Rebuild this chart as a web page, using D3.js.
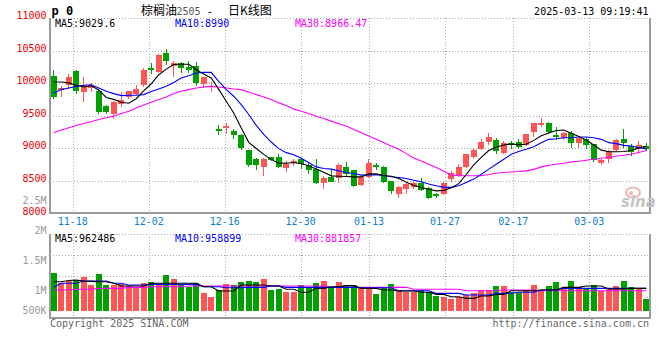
<!DOCTYPE html>
<html><head><meta charset="utf-8">
<script src="https://cdn.jsdelivr.net/npm/d3@7"></script>
<style>
html,body{margin:0;padding:0;background:#fff;}
svg{display:block;}
text{font-family:"DejaVu Sans Mono",monospace;font-size:10px;}
</style></head><body>
<svg id="c" width="660" height="360"></svg>
<script>
// ---------- data ----------
const dates = ["11-13","11-14","11-15","11-18","11-19","11-20","11-21","11-22","11-25","11-26","11-27","11-28","11-29",
"12-02","12-03","12-04","12-05","12-06","12-09","12-10","12-11","12-12","12-13","12-16","12-17","12-18","12-19","12-20","12-23","12-24","12-25","12-26","12-27","12-30","12-31",
"01-02","01-03","01-06","01-07","01-08","01-09","01-10","01-13","01-14","01-15","01-16","01-17","01-20","01-21","01-22","01-23","01-24","01-27",
"02-05","02-06","02-07","02-10","02-11","02-12","02-13","02-14","02-17","02-18","02-19","02-20","02-21","02-24","02-25","02-26","02-27","02-28",
"03-03","03-04","03-05","03-06","03-07","03-10","03-11","03-12","03-13"];
const openP = [10113,9899,9966,10190,9859,9925,9884,9655,9518,9680,9782,9838,9976,10230,10174,10459,10265,10307,10240,10256,9986,9945,9294,9314,9258,9207,8968,8830,8713,8861,8866,8693,8769,8830,8739,8678,8464,8550,8535,8718,8662,8439,8561,8739,8713,8490,8296,8372,8398,8464,8388,8296,8296,8525,8576,8718,8871,8993,9095,9121,8932,9085,9095,9044,9253,9350,9380,9197,9161,9238,9085,9136,9060,8769,8841,8973,9136,9034,8983,9034];
const highP = [10205,9960,10134,10195,10098,10006,9900,9670,9731,9859,9884,9976,10235,10307,10449,10520,10340,10327,10337,10327,10098,10011,9350,9390,9289,9215,8975,8846,8856,8871,8907,8805,8841,8856,8769,8830,8576,8662,8769,8790,8662,8550,8830,8780,8729,8490,8423,8459,8485,8535,8408,8311,8474,8652,8754,8907,9009,9146,9228,9161,9110,9110,9136,9212,9390,9457,9401,9329,9248,9263,9161,9172,9070,8830,8968,9136,9289,9070,9110,9075];
const lowP = [9757,9787,9915,9838,9706,9859,9533,9523,9451,9630,9757,9823,9940,10139,10149,10271,10100,10154,10154,9950,9920,9859,9197,9212,9136,8968,8718,8668,8576,8805,8703,8637,8729,8688,8601,8449,8372,8480,8464,8576,8408,8413,8535,8668,8464,8296,8235,8296,8372,8347,8220,8235,8281,8474,8550,8703,8841,8968,9044,8917,8907,8983,8983,9034,9177,9329,9212,9121,9121,9009,9009,8993,8790,8739,8769,8958,9009,8881,8917,8958];
const closeP = [9782,9925,10098,9874,9976,9966,9553,9553,9716,9747,9884,9915,10205,10205,10434,10332,10305,10225,10195,10001,10088,9960,9273,9334,9197,8998,8739,8739,8840,8820,8713,8754,8800,8754,8668,8464,8540,8484,8739,8601,8423,8550,8769,8713,8474,8337,8408,8449,8464,8362,8235,8260,8464,8617,8713,8907,8968,9095,9172,8958,9085,9054,9024,9212,9380,9380,9248,9172,9238,9075,9151,9044,8820,8815,8958,9121,9075,8942,9044,8983];
const ma5 = [10016,10016,10003,9968,9940,9960,9895,9780,9750,9707,9690,9760,9880,9990,10128,10215,10285,10290,10290,10205,10140,10080,9903,9720,9540,9310,9090,8995,8905,8828,8768,8770,8780,8760,8730,8680,8630,8575,8570,8565,8560,8560,8605,8605,8580,8570,8535,8476,8430,8396,8370,8345,8352,8392,8455,8596,8745,8858,8965,9015,9050,9065,9055,9060,9120,9190,9235,9272,9280,9230,9180,9125,9050,8970,8945,8945,8950,8965,9005,9030];
const ma10 = [9849,9900,9925,9950,9966,9975,9925,9874,9838,9808,9813,9813,9823,9870,9910,9950,10010,10078,10113,10154,10164,10164,10027,9900,9798,9670,9518,9350,9212,9095,8993,8932,8900,8846,8780,8713,8688,8678,8652,8627,8612,8586,8591,8591,8576,8561,8550,8535,8508,8484,8449,8423,8398,8398,8423,8474,8525,8601,8678,8754,8830,8907,8948,8983,9022,9085,9136,9146,9161,9161,9172,9172,9161,9136,9085,9070,9044,9034,9009,8990];
const ma30 = [9238,9279,9314,9350,9380,9406,9441,9467,9492,9533,9569,9619,9665,9706,9747,9787,9840,9874,9900,9925,9940,9950,9940,9925,9910,9900,9864,9823,9787,9747,9696,9655,9600,9569,9533,9492,9457,9416,9375,9340,9289,9238,9187,9136,9085,9034,8983,8917,8850,8805,8754,8703,8645,8590,8576,8576,8576,8578,8595,8615,8627,8635,8642,8652,8675,8713,8739,8754,8769,8790,8800,8815,8830,8846,8856,8881,8892,8907,8935,8966];
const volume = [1300000,1133000,1162000,1178000,1228000,1095000,1278000,1095000,1095000,1112000,1078000,1056000,1128000,1151000,1112000,1262000,1200000,1095000,1067000,1123000,956000,900000,1011000,1112000,1095000,1145000,1167000,1151000,1200000,1011000,1028000,983000,983000,1095000,1039000,1133000,1167000,1039000,1151000,1095000,1095000,1056000,1056000,944000,1056000,1112000,1011000,983000,983000,1011000,983000,911000,889000,861000,900000,928000,956000,1011000,1011000,1078000,1078000,983000,983000,1011000,1095000,1011000,1078000,1151000,1056000,1167000,1056000,1039000,1095000,1000000,1039000,1078000,1167000,1056000,1039000,861000];
const vma5 = [1150000,1150000,1170000,1178000,1160000,1155000,1150000,1150000,1123000,1078000,1078000,1078000,1078000,1123000,1123000,1123000,1123000,1123000,1123000,1123000,1067000,1067000,995000,995000,995000,1095000,1095000,1095000,1095000,1078000,1078000,1023000,1023000,973000,973000,1039000,1039000,1067000,1067000,1084000,1084000,1039000,1039000,1039000,1011000,1011000,995000,995000,995000,973000,973000,939000,939000,900000,900000,872000,872000,911000,911000,939000,939000,1000000,1000000,1000000,1000000,1011000,1011000,1011000,1056000,1056000,1056000,1078000,1078000,1078000,1028000,1028000,1028000,1039000,1039000,1039000];
const vma10 = [1056000,1123000,1123000,1123000,1162000,1162000,1162000,1162000,1123000,1123000,1095000,1095000,1095000,1106000,1106000,1106000,1106000,1106000,1106000,1106000,1067000,1067000,1067000,1050000,1050000,1050000,1056000,1056000,1056000,1078000,1078000,1056000,1056000,1056000,1056000,1056000,1056000,1056000,1056000,1056000,1056000,1050000,1050000,1050000,1050000,1050000,1000000,1000000,1000000,1000000,1000000,956000,956000,956000,956000,928000,928000,928000,928000,956000,956000,956000,973000,973000,973000,1011000,1011000,1011000,1039000,1039000,1039000,1039000,1039000,1039000,1039000,1039000,1039000,1039000,1039000,1039000];
const vma30 = [1011000,1011000,1011000,1023000,1023000,1023000,1039000,1039000,1039000,1039000,1056000,1056000,1056000,1067000,1067000,1067000,1067000,1067000,1078000,1078000,1078000,1078000,1078000,1078000,1078000,1078000,1078000,1078000,1078000,1078000,1078000,1078000,1078000,1078000,1078000,1078000,1078000,1056000,1056000,1056000,1056000,1056000,1056000,1056000,1056000,1056000,1056000,1056000,1023000,1023000,1023000,1023000,1023000,1023000,1023000,1000000,1000000,1000000,1000000,1000000,1011000,1011000,1011000,1011000,1011000,1000000,1000000,1000000,1000000,1000000,1000000,1000000,1000000,1000000,1000000,1000000,1000000,1000000,1000000,1000000];
const priceTicks = [8000,8500,9000,9500,10000,10500,11000];
const volTickValues = [2500000,2000000,1500000,1000000,500000];
const volTickLabels = ["2.5M","2M","1.5M","1M","500K"];
const dateTicks = ["11-18","12-02","12-16","12-30","01-13","01-27","02-17","03-03"];

// ---------- layout ----------
const L = 50, R = 650;
const pTop = 18, pBot = 213.3;
const vTop = 234.3, vBot = 318.3, vBase = 310.7;
const RED = "#ff5555", GREEN = "#00a000", GRID = "#aaaaaa", AXIS = "#9a9a9a";

const svg = d3.select("#c");
const x = d3.scaleBand().domain(dates).range([L, R]).paddingInner(0.2).paddingOuter(0.1);
const gx = d3.scaleLinear().domain([0, dates.length - 1]).range([L, R]);
const y = d3.scaleLinear().domain([8000, 11000]).range([pBot, pTop]);
const vy = d3.scaleLinear().domain([1000000, 2000000]).range([290.7, 230.7]);
const cx = d => x(d) + x.bandwidth() / 2;
const idx = d3.range(dates.length);

// ---------- grid ----------
const grid = svg.append("g").attr("stroke", GRID).attr("stroke-dasharray", "1,2").attr("shape-rendering", "crispEdges");
priceTicks.filter(t => t > 8000).forEach(t => {
  grid.append("line").attr("x1", L).attr("x2", R).attr("y1", Math.round(y(t)) + 0.5).attr("y2", Math.round(y(t)) + 0.5);
});
d3.range(0, 4).forEach(k => {
  const yy = Math.round(vTop + k * (vBot - vTop) / 4) + 0.5;
  grid.append("line").attr("x1", L).attr("x2", R).attr("y1", yy).attr("y2", yy);
});
dateTicks.forEach(t => {
  const xx = Math.round(gx(dates.indexOf(t))) + 0.5;
  grid.append("line").attr("x1", xx).attr("x2", xx).attr("y1", pTop).attr("y2", pBot);
  grid.append("line").attr("x1", xx).attr("x2", xx).attr("y1", vTop).attr("y2", vBot + 3);
});

// ---------- frames ----------
const fr = svg.append("g").attr("stroke", AXIS).attr("stroke-width", 2).attr("fill", "none").attr("shape-rendering", "crispEdges");
fr.append("path").attr("d", `M${L},${pTop}V${pBot}H${R}V${pTop}`);
fr.append("path").attr("d", `M${L},${vTop}V${vBot}H${R}V${vTop}`);

// ---------- watermark ----------
const wm = svg.append("g");
wm.append("ellipse").attr("cx", 633).attr("cy", 192.5).attr("rx", 7).attr("ry", 5).attr("fill", "none").attr("stroke", "#f3b3b3").attr("stroke-width", 2);
wm.append("circle").attr("cx", 631).attr("cy", 193).attr("r", 2).attr("fill", "#f3b3b3");
wm.append("text").attr("x", 621).attr("y", 206.5).attr("fill", "#c4c4c4")
  .style("font-family", "'DejaVu Sans',sans-serif").style("font-size", "15px").style("font-weight", "bold").style("font-style", "italic").text("sina");

// ---------- candles ----------
const cg = svg.append("g").attr("shape-rendering", "crispEdges");
idx.forEach(i => {
  const up = closeP[i] >= openP[i];
  const col = up ? RED : GREEN;
  const wx = Math.floor(cx(dates[i])) + 0.5;
  cg.append("line").attr("x1", wx).attr("x2", wx).attr("y1", y(highP[i])).attr("y2", y(lowP[i])).attr("stroke", col);
  const top = y(Math.max(openP[i], closeP[i]));
  const h = Math.max(1.5, Math.abs(y(openP[i]) - y(closeP[i])));
  cg.append("rect").attr("x", Math.round(x(dates[i]))).attr("width", Math.round(x.bandwidth()))
    .attr("y", top).attr("height", h).attr("fill", col);
});

// ---------- volume bars ----------
const vg = svg.append("g").attr("shape-rendering", "crispEdges");
idx.forEach(i => {
  const up = closeP[i] >= openP[i];
  vg.append("rect").attr("x", Math.round(x(dates[i]))).attr("width", Math.round(x.bandwidth()))
    .attr("y", vy(volume[i])).attr("height", vBase - vy(volume[i])).attr("fill", up ? RED : GREEN);
});

// ---------- MA lines ----------
const lineP = d3.line().x(i => cx(dates[i])).y(i => 0);
function drawLine(arr, scale, color) {
  const ln = d3.line().x(i => cx(dates[i])).y(i => scale(arr[i]));
  svg.append("path").attr("d", ln(idx)).attr("fill", "none").attr("stroke", color).attr("stroke-width", 1.1);
}
drawLine(ma30, y, "#ff00ff");
drawLine(ma10, y, "#0000ff");
drawLine(ma5, y, "#000000");
drawLine(vma30, vy, "#ff00ff");
drawLine(vma10, vy, "#0000ff");
drawLine(vma5, vy, "#000000");

// ---------- axis labels ----------
const lab = svg.append("g").attr("text-anchor", "end");
priceTicks.forEach(t => {
  lab.append("text").attr("x", 46.5).attr("y", y(t) - 1.8).attr("dominant-baseline", "middle").attr("fill", "#ee0000").text(t);
});
volTickValues.forEach((v, k) => {
  lab.append("text").attr("x", 46.5).attr("y", Math.min(vy(v), vBase)).attr("dominant-baseline", "middle").attr("fill", "#999").text(volTickLabels[k]);
});
dateTicks.forEach(t => {
  svg.append("text").attr("x", gx(dates.indexOf(t))).attr("y", 221.7).attr("text-anchor", "middle")
    .attr("dominant-baseline", "middle").attr("fill", "#0a7fcc").text(t);
});

// ---------- headers ----------
function hdr(xx, yy, s, col) {
  svg.append("text").attr("x", xx).attr("y", yy).attr("dominant-baseline", "middle").attr("fill", col).text(s);
}
hdr(55, 24.3, "MA5:9029.6", "#000");
hdr(175, 24.3, "MA10:8990", "#0000ff");
hdr(295, 24.3, "MA30:8966.47", "#ff00ff");
hdr(55, 239, "MA5:962486", "#000");
hdr(175, 239, "MA10:958899", "#0000ff");
hdr(295, 239, "MA30:881857", "#ff00ff");

svg.append("text").attr("x", 51.5).attr("y", 11.7).attr("dominant-baseline", "middle").style("font-size", "12px").style("font-weight", "bold").attr("fill", "#000").text("p 0");
const tt = svg.append("text").attr("y", 11.5).attr("dominant-baseline", "middle").attr("fill", "#000");
tt.append("tspan").attr("x", 141).style("font-family", "'Noto Sans CJK SC',sans-serif").style("font-size", "12px").text("棕榈油");
tt.append("tspan").attr("x", 176.5).attr("fill", "#555").text("2505");
tt.append("tspan").attr("x", 206.5).style("font-size", "11px").text("-");
tt.append("tspan").attr("x", 228).style("font-family", "'Noto Sans CJK SC',sans-serif").style("font-size", "12px").text("日K线图");
svg.append("text").attr("x", 648.5).attr("y", 11.7).attr("text-anchor", "end").attr("dominant-baseline", "middle").attr("fill", "#000").text("2025-03-13 09:19:41");
svg.append("text").attr("x", 50).attr("y", 324).attr("dominant-baseline", "middle").attr("fill", "#666").text("Copyright 2025 SINA.COM");
svg.append("text").attr("x", 649).attr("y", 324).attr("text-anchor", "end").attr("dominant-baseline", "middle").attr("fill", "#666").text("http://finance.sina.com.cn");
</script>
</body></html>
